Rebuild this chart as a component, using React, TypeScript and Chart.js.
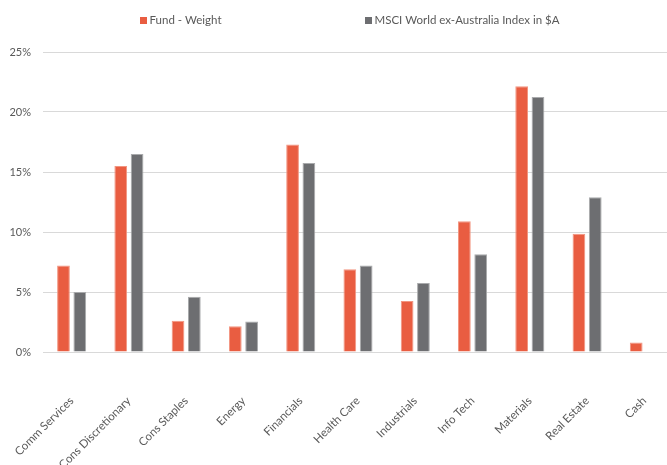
import React, { useEffect, useRef } from 'react';
import { Chart, registerables } from 'chart.js';

Chart.register(...registerables);

const categories = [
  'Comm Services',
  'Cons Discretionary',
  'Cons Staples',
  'Energy',
  'Financials',
  'Health Care',
  'Industrials',
  'Info Tech',
  'Materials',
  'Real Estate',
  'Cash',
];
const fundWeight = [7.2, 15.5, 2.6, 2.15, 17.3, 6.9, 4.25, 10.9, 22.15, 9.85, 0.8];
const msciWeight = [5.0, 16.5, 4.6, 2.55, 15.75, 7.2, 5.75, 8.15, 21.25, 12.9, null];
const seriesNames = ['Fund - Weight', 'MSCI World ex-Australia Index in $A'];
const seriesColors = ['#E95D41', '#6D6E71'];
const seriesBorders = ['#F29580', '#A9AAAC'];
const yMin = 0;
const yMax = 25;
const yStep = 5;

const FONT = 'Lato, "Open Sans", sans-serif';
const TEXT_COLOR = '#595959';
const LEGEND_X = [140, 365];

const topLegend = {
  id: 'topLegend',
  afterDraw(chart: any) {
    const ctx = chart.ctx;
    ctx.save();
    ctx.font = `11.5px ${FONT}`;
    ctx.textBaseline = 'middle';
    ctx.textAlign = 'left';
    chart.data.datasets.forEach((ds: any, i: number) => {
      const x = LEGEND_X[i];
      ctx.fillStyle = ds.backgroundColor;
      ctx.fillRect(x, 17, 7, 7);
      ctx.fillStyle = TEXT_COLOR;
      ctx.fillText(ds.label, x + 9.5, 20.5);
    });
    ctx.restore();
  },
};

export default function App() {
  const ref = useRef<HTMLCanvasElement | null>(null);

  useEffect(() => {
    if (!ref.current) return;
    const chart = new Chart(ref.current, {
      type: 'bar',
      data: {
        labels: categories,
        datasets: [
          {
            label: seriesNames[0],
            data: fundWeight,
            backgroundColor: seriesColors[0],
            borderColor: seriesBorders[0],
            borderWidth: 1,
            categoryPercentage: 0.57,
            barPercentage: 0.78,
          },
          {
            label: seriesNames[1],
            data: msciWeight as any,
            backgroundColor: seriesColors[1],
            borderColor: seriesBorders[1],
            borderWidth: 1,
            categoryPercentage: 0.57,
            barPercentage: 0.78,
          },
        ],
      },
      options: {
        animation: false,
        responsive: true,
        maintainAspectRatio: false,
        layout: { padding: { top: 52, right: 3, left: 0, bottom: 0 } },
        plugins: {
          legend: { display: false },
          tooltip: { enabled: false },
        },
        scales: {
          x: {
            grid: { display: false, drawTicks: false },
            border: { display: false },
            ticks: {
              minRotation: 45,
              maxRotation: 45,
              autoSkip: false,
              padding: 42,
              color: TEXT_COLOR,
              font: { family: FONT, size: 11.5 },
            },
            afterFit(scale: any) {
              scale.height = 113;
              scale.paddingLeft = 0;
              scale.paddingRight = 0;
            },
          },
          y: {
            min: yMin,
            max: yMax,
            grid: { color: '#D9D9D9', lineWidth: 1, drawTicks: false },
            border: { display: false },
            ticks: {
              stepSize: yStep,
              padding: 12,
              color: TEXT_COLOR,
              font: { family: FONT, size: 11 },
              callback: (v: any) => `${v}%`,
            },
            afterFit(scale: any) {
              scale.width = 43;
              scale.paddingTop = 0;
              scale.paddingBottom = 0;
            },
          },
        },
      },
      plugins: [topLegend],
    });
    return () => chart.destroy();
  }, []);

  return (
    <div
      style={{
        position: 'absolute',
        left: 0,
        top: 0,
        width: 667,
        height: 465,
        overflow: 'hidden',
        background: '#fff',
      }}
    >
      <div style={{ position: 'relative', width: 676, height: 465 }}>
        <canvas ref={ref} />
      </div>
    </div>
  );
}
